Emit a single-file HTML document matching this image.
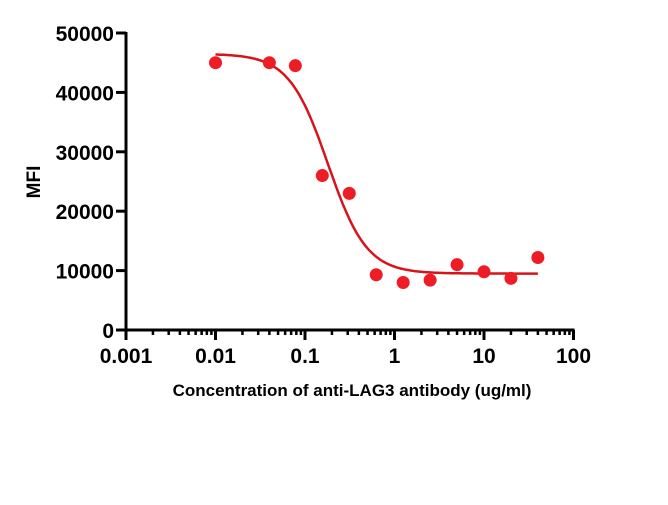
<!DOCTYPE html>
<html><head><meta charset="utf-8"><style>
body{margin:0;background:#fff;}
svg text{font-family:"Liberation Sans",Arial,sans-serif;font-weight:bold;fill:#000;}
</style></head><body>
<svg width="668" height="500" viewBox="0 0 668 500">
<g id="axes"></g>
<g id="marks"></g>
<text x="40" y="182" font-size="19" text-anchor="middle" transform="rotate(-90 40 182)">MFI</text>
<text x="352" y="396" font-size="17" text-anchor="middle">Concentration of anti-LAG3 antibody (ug/ml)</text>
</svg>
<script>
const concentrations=[0.01,0.04,0.078,0.156,0.3125,0.625,1.25,2.5,5,10,20,40];
const mfiValues=[45000,45000,44500,26000,23000,9300,8000,8400,11000,9800,8700,12200];
const yTicks=[0,10000,20000,30000,40000,50000];
const xTicks=[0.001,0.01,0.1,1,10,100];
const xTickLabels=["0.001","0.01","0.1","1","10","100"];
const fitTop=46500, fitBottom=9500, fitIC50=0.18, fitHill=2.0;
const NS="http://www.w3.org/2000/svg";
const X0=126,PX=89.5,Y0=330,PY=297/50000;
function xs(v){return X0+(Math.log10(v)+3)*PX;}
function ys(v){return Y0-v*PY;}
function mk(t,a,p){const e=document.createElementNS(NS,t);for(const k in a)e.setAttribute(k,a[k]);p.appendChild(e);return e;}
const ax=document.getElementById('axes'),mg=document.getElementById('marks');
let l=mk('line',{x1:X0,y1:ys(50000)-1,x2:X0,y2:Y0+1.5,stroke:'#000','stroke-width':3},ax);


l=mk('line',{x1:X0-1.5,y1:Y0,x2:xs(100)+1,y2:Y0,stroke:'#000','stroke-width':3},ax);


yTicks.forEach(v=>{
 mk('line',{x1:X0-10,y1:ys(v),x2:X0,y2:ys(v),stroke:'#000','stroke-width':3},ax);
 const t=mk('text',{x:X0-12,y:ys(v)+8,'font-size':21,'text-anchor':'end'},ax);t.textContent=v;
 
 
});
xTicks.forEach((v,i)=>{
 mk('line',{x1:xs(v),y1:Y0,x2:xs(v),y2:Y0+10,stroke:'#000','stroke-width':3},ax);
 const t=mk('text',{x:xs(v),y:Y0+33,'font-size':21,'text-anchor':'middle'},ax);t.textContent=xTickLabels[i];
 
 
 if(i<xTicks.length-1)for(let m=2;m<10;m++)mk('line',{x1:xs(v*m),y1:Y0,x2:xs(v*m),y2:Y0+5,stroke:'#000','stroke-width':2.5},ax);
});
let d='';
for(let i=0;i<=200;i++){const lx=Math.log10(0.01)+i/200*(Math.log10(40)-Math.log10(0.01));const c=Math.pow(10,lx);
 const y=fitBottom+(fitTop-fitBottom)/(1+Math.pow(c/fitIC50,fitHill));d+=(i?'L':'M')+xs(c).toFixed(1)+' '+ys(y).toFixed(1);}
const p=mk('path',{d:d,fill:'none',stroke:'#d7141c','stroke-width':2.5},mg);


concentrations.forEach((c,i)=>{
 const e=mk('circle',{cx:xs(c),cy:ys(mfiValues[i]),r:6.5,fill:'#ee1c24'},mg);
 
 
});
</script>
</body></html>
